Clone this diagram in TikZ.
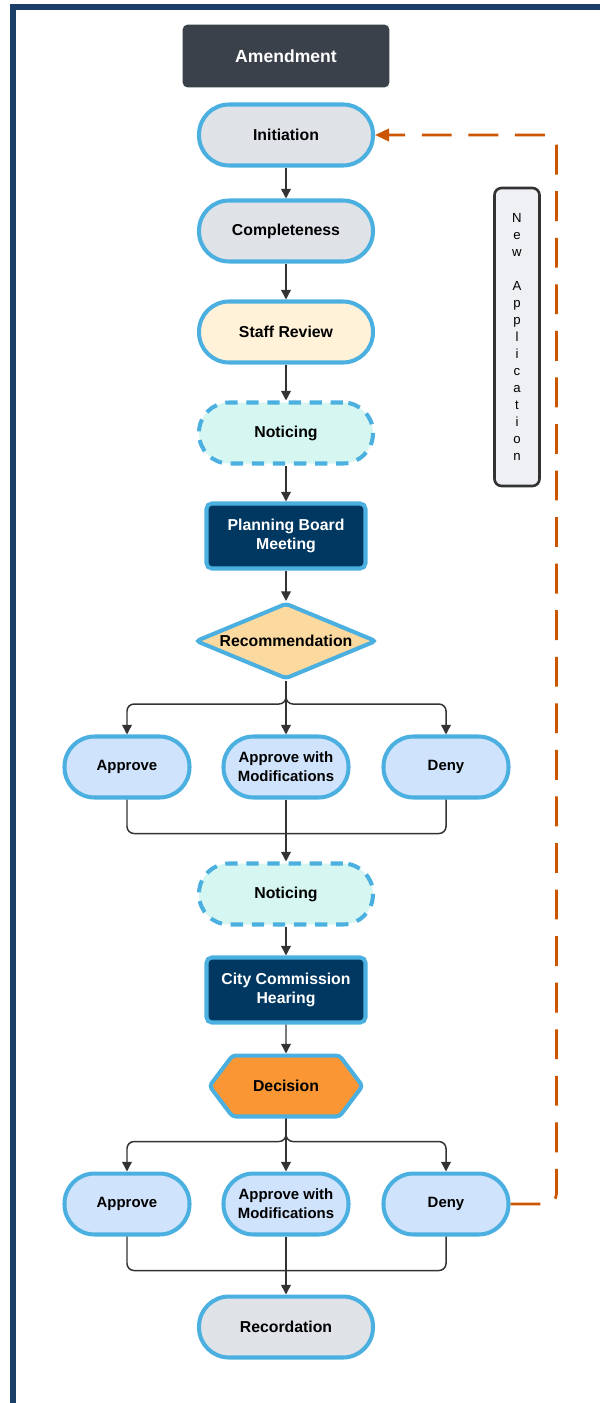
\documentclass[tikz,border=0pt]{standalone}
\usepackage{fontspec}
\setmainfont{Liberation Sans}
\usetikzlibrary{arrows.meta}
\usetikzlibrary{shapes.geometric, shapes.symbols}

\definecolor{frameblue}{HTML}{1B3F68}
\definecolor{rimblue}{HTML}{4BB0E0}
\definecolor{stepgray}{HTML}{DFE2E7}
\definecolor{cream}{HTML}{FFF2D9}
\definecolor{mint}{HTML}{D6F7F1}
\definecolor{navy}{HTML}{003862}
\definecolor{peach}{HTML}{FCD99F}
\definecolor{paleblue}{HTML}{CFE3FC}
\definecolor{deciorange}{HTML}{FA9634}
\definecolor{slate}{HTML}{3A414B}
\definecolor{wire}{HTML}{333333}
\definecolor{rust}{HTML}{CC5500}

\begin{document}
\begin{tikzpicture}[
    x=0.02cm, y=-0.02cm,
    pill/.style={draw=rimblue, line width=2.3pt, rounded corners=0.6cm, minimum width=3.48cm, minimum height=1.22cm, align=center, font=\fontsize{9}{11}\selectfont\bfseries},
    choice/.style={pill, fill=paleblue, minimum width=2.5cm, font=\fontsize{8.5}{10.8}\selectfont\bfseries},
    meet/.style={draw=rimblue, fill=navy, text=white, line width=2.3pt, rounded corners=3pt, minimum width=3.18cm, minimum height=1.3cm, align=center, font=\fontsize{9}{11.3}\selectfont\bfseries},
    arr/.style={-{Triangle[length=5.5pt,width=5.5pt]}, line width=0.85pt, wire},
    link/.style={line width=0.85pt, wire, rounded corners=4pt},
    back/.style={-{Triangle[length=8pt,width=7pt]}, line width=1.6pt, rust, dash pattern=on 17pt off 9.5pt, rounded corners=6pt}
]
\useasboundingbox (0,0) rectangle (600,1403);

% --- FRAME ---
\draw[frameblue, line width=0.12cm] (13,1403) -- (13,7) -- (600,7);

% --- TOP OF THE PROCESS ---
\node[fill=slate, text=white, rounded corners=3pt, minimum width=4.14cm, minimum height=1.26cm, font=\fontsize{10}{12}\selectfont\bfseries] (title) at (286,56) {Amendment};

\node[pill, fill=stepgray] (init) at (286,135) {Initiation};
\node[pill, fill=stepgray] (complete) at (286,231) {Completeness};
\node[pill, fill=cream] (staff) at (286,332) {Staff Review};
\node[pill, fill=mint, dash pattern=on 7pt off 5pt] (notice1) at (286,433) {Noticing};
\node[meet] (board) at (286,536) {Planning Board\\Meeting};
\node[diamond, aspect=2.3, draw=rimblue, fill=peach, line width=2.3pt, rounded corners=2pt, inner sep=0pt, minimum width=3.62cm, minimum height=1.52cm, font=\fontsize{9}{11}\selectfont\bfseries] (recommend) at (286,641) {Recommendation};

% --- RECOMMENDATION OUTCOMES ---
\node[choice] (approve1) at (127,767) {Approve};
\node[choice] (modify1) at (286,767) {Approve with\\Modifications};
\node[choice] (deny1) at (446,767) {Deny};

% --- CITY COMMISSION ---
\node[pill, fill=mint, dash pattern=on 7pt off 5pt] (notice2) at (286,894) {Noticing};
\node[meet] (hearing) at (286,990) {City Commission\\Hearing};
\node[signal, signal to=east and west, signal pointer angle=106, draw=rimblue, fill=deciorange, line width=2.3pt, rounded corners=2pt, inner sep=0pt, minimum width=3.06cm, minimum height=1.22cm, font=\fontsize{9}{11}\selectfont\bfseries] (decision) at (286,1086) {Decision};

% --- DECISION OUTCOMES ---
\node[choice] (approve2) at (127,1204) {Approve};
\node[choice] (modify2) at (286,1204) {Approve with\\Modifications};
\node[choice] (deny2) at (446,1204) {Deny};

\node[pill, fill=stepgray] (record) at (286,1327) {Recordation};

% --- SIDE NOTE ---
\node[draw=wire, fill=stepgray!50, line width=1.5pt, rounded corners=4pt, minimum width=0.9cm, minimum height=5.96cm, align=center, font=\fontsize{7.5}{9.7}\selectfont] (newapp) at (517,337)
{N\\e\\w\\[9.7pt]A\\p\\p\\l\\i\\c\\a\\t\\i\\o\\n};

% --- CONNECTIONS ---
\draw[arr] (init) -- (complete);
\draw[arr] (complete) -- (staff);
\draw[arr] (staff) -- (notice1);
\draw[arr] (notice1) -- (board);
\draw[arr] (board) -- (recommend);

\draw[arr] (recommend.south) -- (modify1.north);
\draw[arr, rounded corners=4pt] (recommend.south) -- ++(0,23) -| (approve1.north);
\draw[arr, rounded corners=4pt] (recommend.south) -- ++(0,23) -| (deny1.north);
\draw[link] (approve1.south) -- ++(0,34) -| (deny1.south);
\draw[arr] (modify1.south) -- (notice2.north);

\draw[arr] (notice2) -- (hearing);
\draw[arr] (hearing) -- (decision);

\draw[arr] (decision.south) -- (modify2.north);
\draw[arr, rounded corners=4pt] (decision.south) -- ++(0,23) -| (approve2.north);
\draw[arr, rounded corners=4pt] (decision.south) -- ++(0,23) -| (deny2.north);
\draw[link] (approve2.south) -- ++(0,34) -| (deny2.south);
\draw[arr] (modify2.south) -- (record.north);

% denied: start over
\draw[back] (deny2.east) -- ++(46,0) |- (init.east);

\end{tikzpicture}
\end{document}
